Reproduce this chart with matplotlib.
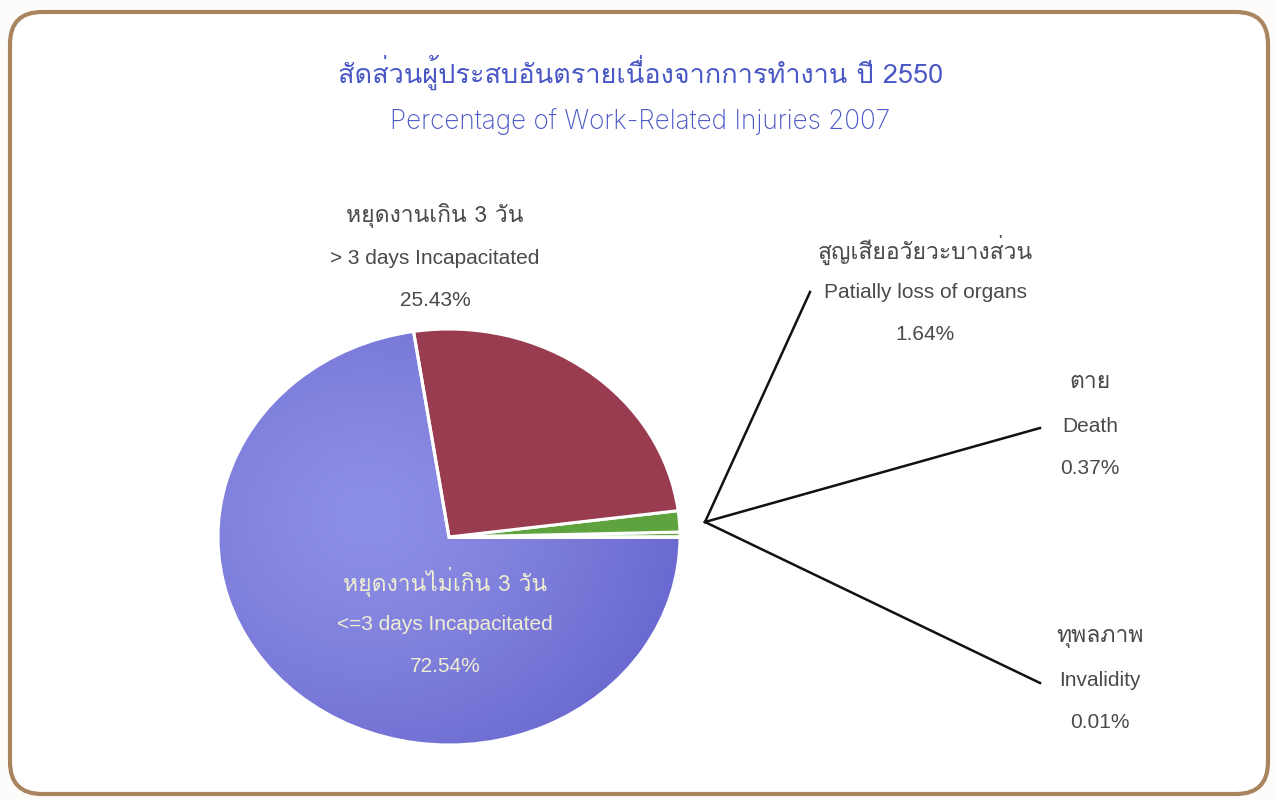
import numpy as np
import matplotlib
matplotlib.use('Agg')
import matplotlib.pyplot as plt
from matplotlib import font_manager, ft2font
from matplotlib.patches import FancyBboxPatch

# share of work-related injuries, 2007 (B.E. 2550)
labels_th = ['ทุพลภาพ', 'ตาย', 'สูญเสียอวัยวะบางส่วน', 'หยุดงานเกิน 3 วัน', 'หยุดงานไม่เกิน 3 วัน']
labels_en = ['Invalidity', 'Death', 'Patially loss of organs', '> 3 days Incapacitated', '<=3 days Incapacitated']
shares = [0.01, 0.37, 1.64, 25.43, 72.54]
colors = ['#5ea33e', '#5ea33e', '#5ea33e', '#9a3c50', '#7676d6']
title_th = 'สัดส่วนผู้ประสบอันตรายเนื่องจากการทำงาน ปี 2550'
title_en = 'Percentage of Work-Related Injuries 2007'


def find_thai_family():
    for f in font_manager.fontManager.ttflist:
        try:
            if 0x0E01 in ft2font.FT2Font(f.fname).get_charmap():
                return f.name
        except Exception:
            pass
    return 'DejaVu Sans'


thai = find_thai_family()
fams = ['Liberation Sans', thai, 'DejaVu Sans']
plt.rcParams['font.family'] = fams

W, H = 1277, 800
fig = plt.figure(figsize=(W / 100, H / 100), dpi=100, facecolor='#fdfcfa')

# canvas in pixel units, y measured from the top
ax = fig.add_axes([0, 0, 1, 1])
ax.set_xlim(0, W)
ax.set_ylim(H, 0)
ax.axis('off')

frame = FancyBboxPatch((10, 12), 1258, 782, boxstyle='round,pad=0,rounding_size=32',
                       facecolor='white', edgecolor='#a8845f', linewidth=3)
ax.add_patch(frame)

title_col = '#4a58c6'
ax.text(641, 72, title_th, ha='center', va='center', fontsize=19.5, color=title_col,
        family=[thai, 'DejaVu Sans'], fontweight='light')
ax.text(640, 122, title_en, ha='center', va='center', fontsize=18.8, color=title_col,
        family=['Inter', 'DejaVu Sans'], fontweight='light')

# pie is slightly squashed vertically, so it gets its own axes
cx, cy, rx, ry = 449, 537, 231, 208
pax = fig.add_axes([(cx - rx) / W, (H - cy - ry) / H, 2 * rx / W, 2 * ry / H])

wedges, _ = pax.pie(shares, colors=colors, startangle=0, counterclock=True,
                    radius=1, center=(0, 0), frame=False,
                    wedgeprops=dict(edgecolor='white', linewidth=2.2))
pax.set_xlim(-1, 1)
pax.set_ylim(-1, 1)
pax.set_aspect('auto')
pax.axis('off')

# soft shading on the large wedge
gx, gy = np.meshgrid(np.linspace(-1, 1, 300), np.linspace(-1, 1, 300))
d = np.sqrt((gx + 0.35) ** 2 + (gy - 0.1) ** 2)
d = np.clip(d / 1.35, 0, 1) ** 1.3
c0 = np.array(matplotlib.colors.to_rgb('#8e8fe6'))
c1 = np.array(matplotlib.colors.to_rgb('#6b6ad0'))
img = c0[None, None, :] * (1 - d[..., None]) + c1[None, None, :] * d[..., None]
blue = wedges[-1]
im = pax.imshow(img, extent=(-1, 1, -1, 1), origin='lower', zorder=0.5, aspect='auto')
im.set_clip_path(blue)
blue.set_facecolor('none')
blue.set_zorder(2)

# leader lines for the small slices
hub = (705, 522)
for end in [(1040, 683), (1040, 428), (810, 292)]:
    ax.plot([hub[0], end[0]], [hub[1], end[1]], color='#111111', lw=1.8)

txt_col = '#4a4a4a'
label_pos = [(1100, 637), (1090, 383), (925, 250), (435, 215), (445, 582)]
for i, (x, y) in enumerate(label_pos):
    # the label inside the pie sits above the pie axes
    host = pax if i == 4 else ax
    col = '#f0eed2' if i == 4 else txt_col
    host.text(x, y, labels_th[i], ha='center', va='center', fontsize=16.5, color=col,
              family=[thai, 'DejaVu Sans'], transform=ax.transData, zorder=5)
    host.text(x, y + 43, labels_en[i], ha='center', va='center', fontsize=15, color=col,
              transform=ax.transData, zorder=5)
    host.text(x, y + 85, f'{shares[i]:.2f}%', ha='center', va='center', fontsize=15,
              color=col, transform=ax.transData, zorder=5)

fig.savefig('out.png', dpi=100, facecolor=fig.get_facecolor())
